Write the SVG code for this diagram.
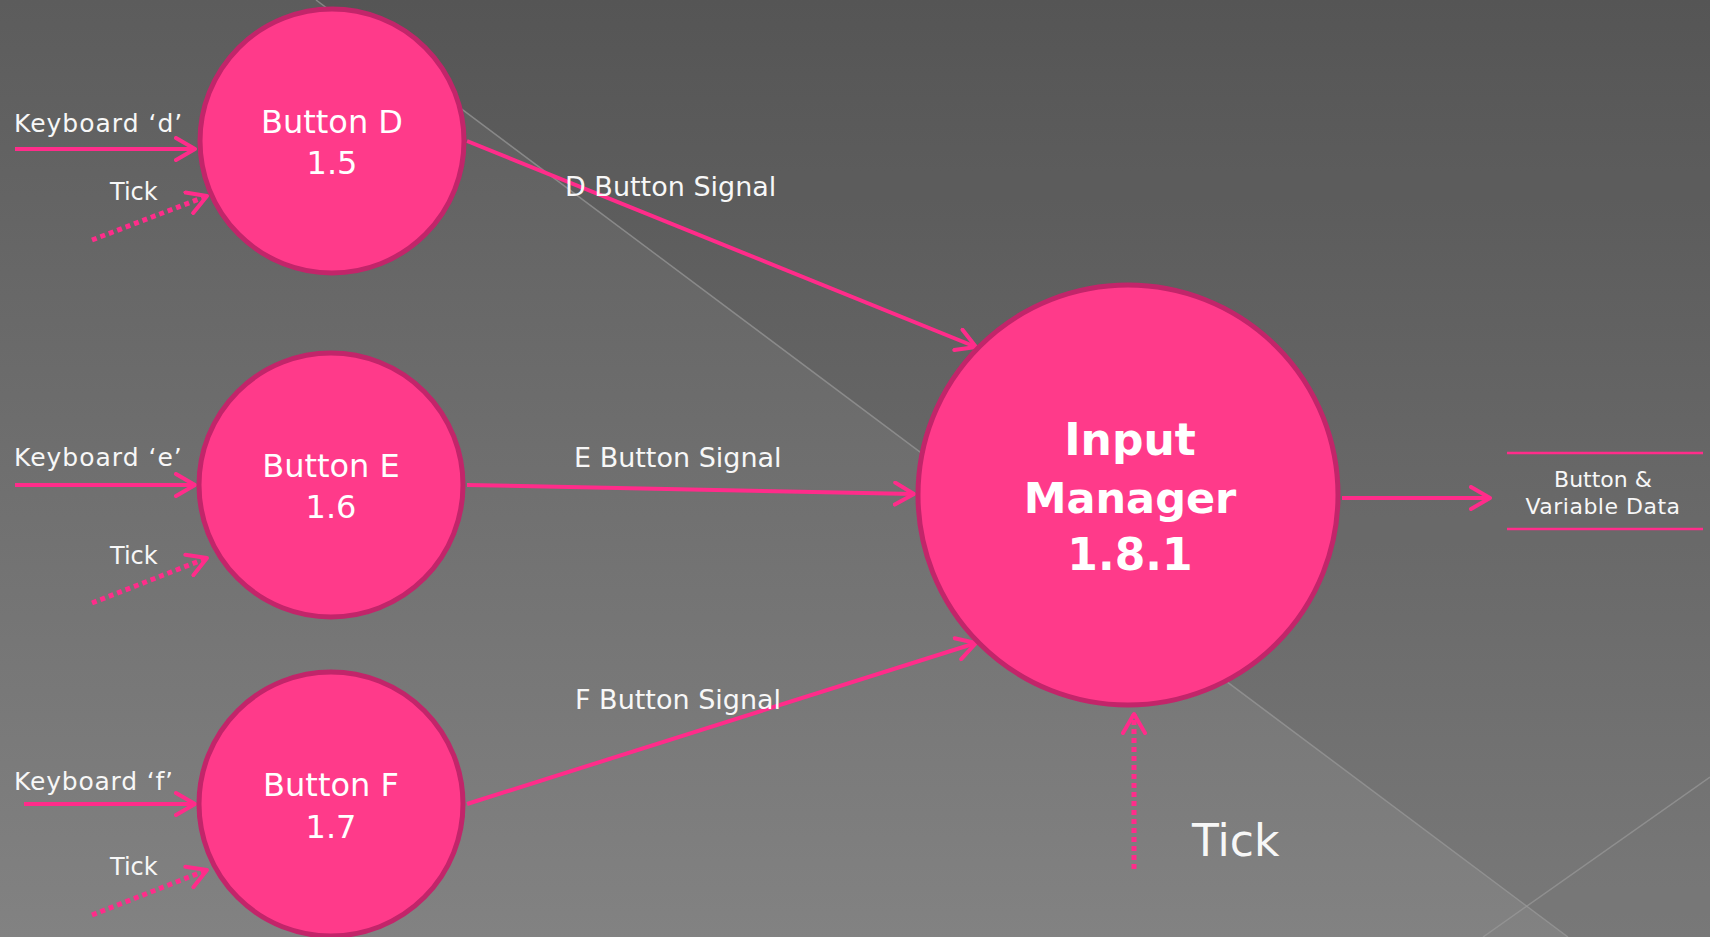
<svg xmlns="http://www.w3.org/2000/svg" width="1710" height="937" viewBox="0 0 1710 937">
  <defs>
    <linearGradient id="bg" x1="0" y1="0" x2="0" y2="1">
      <stop offset="0" stop-color="#5c5c5c"/>
      <stop offset="1" stop-color="#828282"/>
    </linearGradient>
    <marker id="chev" viewBox="0 0 24 26" refX="21" refY="13" markerWidth="24" markerHeight="26" markerUnits="userSpaceOnUse" orient="auto">
      <path d="M2,2 L21,13 L2,24" fill="none" stroke="#ff2c8a" stroke-width="4" stroke-linecap="round" stroke-linejoin="round"/>
    </marker>
    <style>
      .node { fill: #ff3a8a; stroke: #c2256a; stroke-width: 5; }
      .lbl { font-family: "DejaVu Sans", "Liberation Sans", sans-serif; fill: #f7f7f7; }
      .ntxt { font-family: "DejaVu Sans", "Liberation Sans", sans-serif; fill: #ffffff; font-size: 32px; text-anchor: middle; }
      .flow { stroke: #ff2c8a; stroke-width: 4; fill: none; marker-end: url(#chev); }
      .tick { stroke: #ff2c8a; stroke-width: 5; fill: none; stroke-dasharray: 5 4; marker-end: url(#chev); }
      .store { stroke: #ff2c8a; stroke-width: 2.5; }
    </style>
  </defs>

  <g id="background">
    <rect x="0" y="0" width="1710" height="937" fill="url(#bg)"/>
    <polygon points="316,0 1710,0 1710,937 1568,937" fill="#000" opacity="0.07"/>
    <line x1="316" y1="0" x2="1568" y2="937" stroke="#9a9a9a" stroke-width="1.5" opacity="0.7"/>
    <line x1="1710" y1="777" x2="1483" y2="937" stroke="#9a9a9a" stroke-width="1.5" opacity="0.7"/>
  </g>

  <g id="connectors">
    <line class="flow" x1="15" y1="149" x2="195" y2="149"/>
    <line class="tick" x1="92" y1="240" x2="207" y2="196"/>
    <line class="flow" x1="15" y1="485" x2="195" y2="485"/>
    <line class="tick" x1="92" y1="603" x2="207" y2="558"/>
    <line class="flow" x1="24" y1="804" x2="195" y2="804"/>
    <line class="tick" x1="92" y1="915" x2="207" y2="870"/>
    <line class="flow" x1="467" y1="141" x2="976" y2="347"/>
    <line class="flow" x1="467" y1="485" x2="914" y2="494"/>
    <line class="flow" x1="467" y1="804" x2="976" y2="643"/>
    <line class="flow" x1="1342" y1="498" x2="1490" y2="498"/>
    <line class="tick" x1="1134" y1="869" x2="1134" y2="714"/>
  </g>

  <g id="labels">
    <text class="lbl" x="14" y="132" font-size="25" letter-spacing="1">Keyboard ‘d’</text>
    <text class="lbl" x="110" y="200" font-size="24">Tick</text>
    <text class="lbl" x="14" y="466" font-size="25" letter-spacing="1">Keyboard ‘e’</text>
    <text class="lbl" x="110" y="564" font-size="24">Tick</text>
    <text class="lbl" x="14" y="790" font-size="25" letter-spacing="0.8">Keyboard ‘f’</text>
    <text class="lbl" x="110" y="875" font-size="24">Tick</text>
    <text class="lbl" x="565" y="196" font-size="27">D Button Signal</text>
    <text class="lbl" x="574" y="467" font-size="27">E Button Signal</text>
    <text class="lbl" x="575" y="709" font-size="27">F Button Signal</text>
    <text class="lbl" x="1192" y="856" font-size="44">Tick</text>
  </g>

  <g id="node-button-d">
    <circle class="node" cx="332" cy="141" r="132"/>
    <text class="ntxt" x="332" y="133">Button D</text>
    <text class="ntxt" x="332" y="174">1.5</text>
  </g>

  <g id="node-button-e">
    <circle class="node" cx="331" cy="485" r="132"/>
    <text class="ntxt" x="331" y="477">Button E</text>
    <text class="ntxt" x="331" y="518">1.6</text>
  </g>

  <g id="node-button-f">
    <circle class="node" cx="331" cy="804" r="132"/>
    <text class="ntxt" x="331" y="796">Button F</text>
    <text class="ntxt" x="331" y="838">1.7</text>
  </g>

  <g id="node-input-manager">
    <circle class="node" cx="1128" cy="495" r="210"/>
    <text class="ntxt" x="1130" y="455" font-weight="bold" style="font-size:44px">Input</text>
    <text class="ntxt" x="1130" y="513" font-weight="bold" style="font-size:43px">Manager</text>
    <text class="ntxt" x="1130" y="570" font-weight="bold" style="font-size:44px">1.8.1</text>
  </g>

  <g id="node-data-store">
    <line class="store" x1="1507" y1="453" x2="1703" y2="453"/>
    <line class="store" x1="1507" y1="529" x2="1703" y2="529"/>
    <text class="lbl" x="1603" y="487" font-size="22" text-anchor="middle">Button &amp;</text>
    <text class="lbl" x="1603" y="514" font-size="22" text-anchor="middle" letter-spacing="0.5">Variable Data</text>
  </g>
</svg>
